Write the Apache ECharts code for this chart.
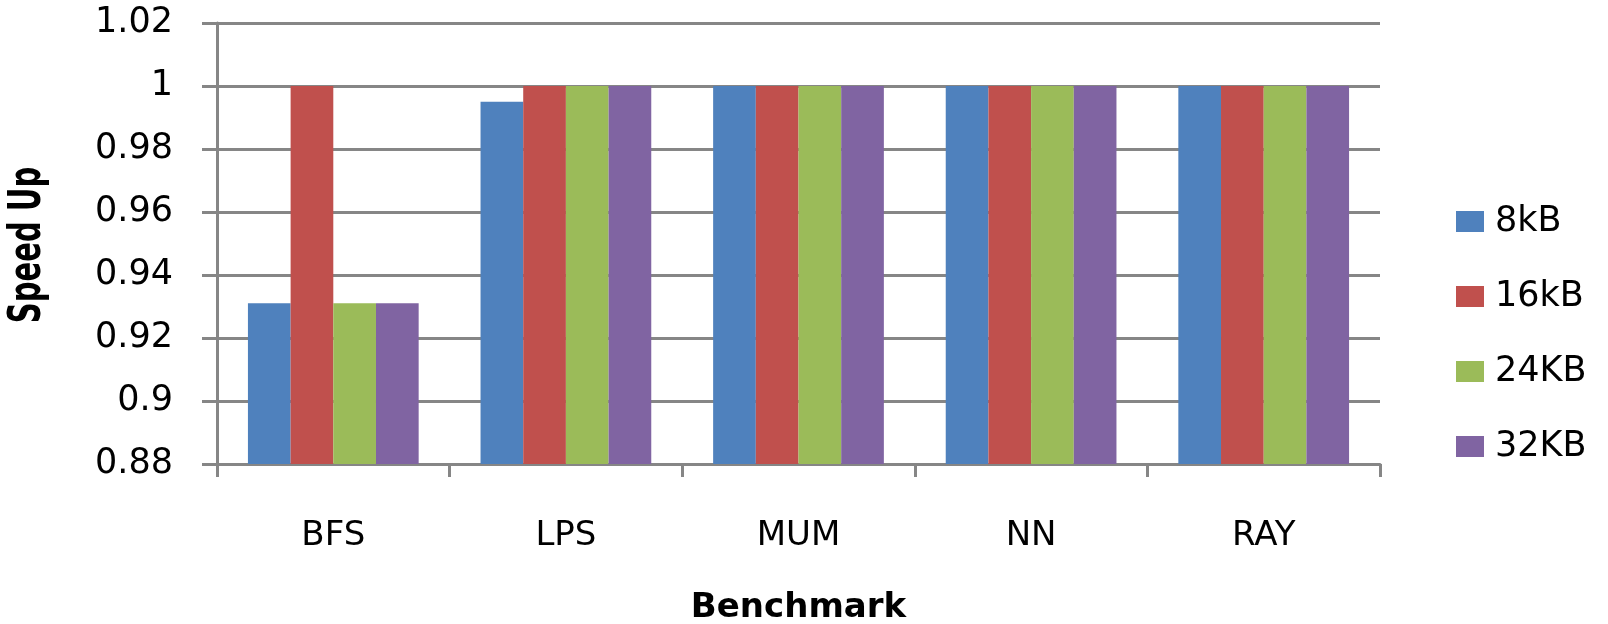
<!DOCTYPE html>
<html>
<head>
<meta charset="utf-8">
<script src="https://cdn.jsdelivr.net/npm/echarts@6/dist/echarts.min.js"></script>
<style>
  html, body { margin: 0; padding: 0; background: #ffffff; }
  #chart { width: 1608px; height: 624px; }
</style>
</head>
<body>
<div id="chart"></div>
<script>
// Benchmarks on the category axis
const categories = ['BFS', 'LPS', 'MUM', 'NN', 'RAY'];

// Cache sizes, one bar series each
const seriesNames = ['8kB', '16kB', '24KB', '32KB'];

// Speed-up per benchmark for each cache size
const speedup8kB  = [0.931, 0.995, 1, 1, 1];
const speedup16kB = [1, 1, 1, 1, 1];
const speedup24KB = [0.931, 1, 1, 1, 1];
const speedup32KB = [0.931, 1, 1, 1, 1];

// Value-axis ticks
const yTicks = [0.88, 0.9, 0.92, 0.94, 0.96, 0.98, 1, 1.02];

const seriesValues = [speedup8kB, speedup16kB, speedup24KB, speedup32KB];
const palette = ['#4F81BD', '#C0504D', '#9BBB59', '#8064A2'];
const lineGray = '#868686';
const fontFamily = '"DejaVu Sans", Verdana, sans-serif';

const chart = echarts.init(document.getElementById('chart'), null, { renderer: 'canvas' });

chart.setOption({
  animation: false,
  backgroundColor: '#ffffff',
  color: palette,
  grid: {
    left: 217, right: 228, top: 23, bottom: 160,
    containLabel: false,
    outerBoundsMode: 'none'
  },
  legend: {
    orient: 'vertical',
    left: 1456,
    top: 204,
    padding: 0,
    itemWidth: 28,
    itemHeight: 21,
    itemGap: 40,
    icon: 'rect',
    data: seriesNames,
    textStyle: {
      fontFamily: fontFamily,
      fontSize: 35,
      lineHeight: 33,
      color: '#000000',
      padding: [0, 0, 0, 6]
    }
  },
  xAxis: {
    type: 'category',
    data: categories,
    boundaryGap: true,
    name: 'Benchmark',
    nameLocation: 'middle',
    nameGap: 127,
    nameTextStyle: { fontFamily: fontFamily, fontSize: 34, fontWeight: 'bold', color: '#000000' },
    axisLine: { show: true, lineStyle: { color: lineGray, width: 3 } },
    axisTick: { show: true, length: 13, lineStyle: { color: lineGray, width: 3 } },
    axisLabel: { margin: 55, fontFamily: fontFamily, fontSize: 34, color: '#000000' },
    splitLine: { show: false }
  },
  yAxis: {
    type: 'value',
    min: yTicks[0],
    max: yTicks[yTicks.length - 1],
    interval: 0.02,
    axisLine: { show: true, lineStyle: { color: lineGray, width: 3 } },
    axisTick: { show: true, inside: false, length: 15, lineStyle: { color: lineGray, width: 3 } },
    axisLabel: {
      margin: 44,
      fontFamily: fontFamily,
      fontSize: 35,
      color: '#000000',
      formatter: v => String(parseFloat(v.toFixed(2)))
    },
    splitLine: { show: true, lineStyle: { color: lineGray, width: 3 } }
  },
  graphic: [{
    type: 'text',
    x: 29,
    y: 245,
    rotation: Math.PI / 2,
    scaleX: 0.66,
    style: {
      text: 'Speed Up',
      font: 'bold 44px "DejaVu Sans", Verdana, sans-serif',
      fill: '#000000',
      align: 'center',
      verticalAlign: 'middle'
    }
  }],
  series: seriesNames.map((name, i) => ({
    name: name,
    type: 'bar',
    data: seriesValues[i],
    barGap: '0%',
    barCategoryGap: '26.6%',
    itemStyle: { color: palette[i] }
  }))
});
</script>
</body>
</html>
